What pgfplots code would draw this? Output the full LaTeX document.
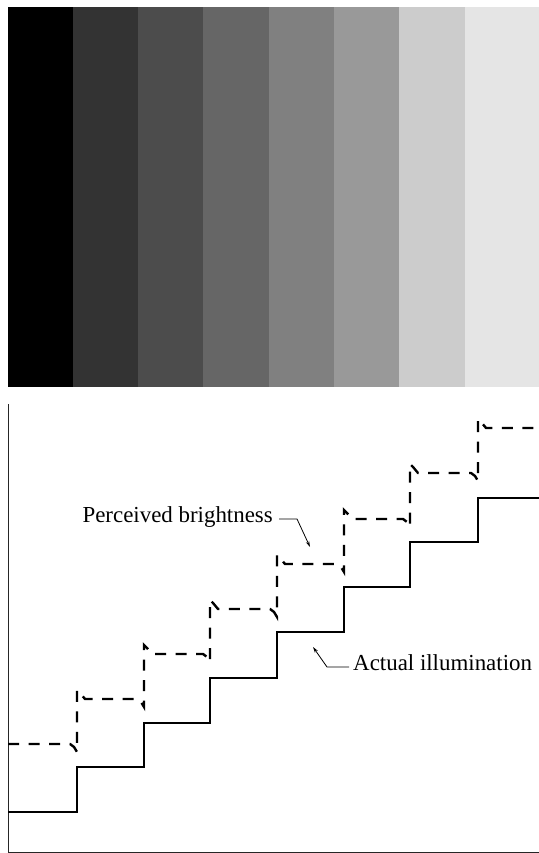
\documentclass[border=0pt]{standalone}
\usepackage{pgfplots}
\pgfplotsset{compat=1.18}
\usetikzlibrary{arrows.meta}
\usepackage{fontspec}
\setmainfont{Liberation Serif}

\begin{document}
\begin{tikzpicture}[x=1bp,y=1bp]
\useasboundingbox (0,0) rectangle (539,853);

% gray bands on top
\begin{axis}[
    at={(8bp,466bp)}, anchor=south west,
    scale only axis, width=531bp, height=380bp,
    xmin=8, xmax=539, ymin=466, ymax=846,
    hide axis,
]
\addplot[draw=none, fill=black]       coordinates {(8,466)(73.5,466)(73.5,846)(8,846)} --cycle;
\addplot[draw=none, fill=black!80]    coordinates {(73,466)(138.5,466)(138.5,846)(73,846)} --cycle;
\addplot[draw=none, fill=black!70]    coordinates {(138,466)(203.5,466)(203.5,846)(138,846)} --cycle;
\addplot[draw=none, fill=black!60]    coordinates {(203,466)(269.5,466)(269.5,846)(203,846)} --cycle;
\addplot[draw=none, fill=black!50]    coordinates {(269,466)(334.5,466)(334.5,846)(269,846)} --cycle;
\addplot[draw=none, fill=black!40]    coordinates {(334,466)(399.5,466)(399.5,846)(334,846)} --cycle;
\addplot[draw=none, fill=black!20]    coordinates {(399,466)(465.5,466)(465.5,846)(399,846)} --cycle;
\addplot[draw=none, fill=black!10]    coordinates {(465,466)(539,466)(539,846)(465,846)} --cycle;
\end{axis}

% staircase plot
\begin{axis}[
    at={(8bp,1bp)}, anchor=south west,
    scale only axis, width=531bp, height=448bp,
    xmin=8, xmax=539, ymin=1, ymax=449,
    axis lines=left,
    axis line style={-, line width=0.9bp, black!85},
    xtick=\empty, ytick=\empty,
    clip=false,
]
% perceived brightness
\addplot[black, line width=2.4bp, dash pattern=on 11bp off 9.5bp] coordinates {
(8,109) (70,109) (74,106) (77,101) (77,163) (80,160) (85,154)
(137,154) (141,151) (144,146) (144,208) (147,205) (152,199)
(203,199) (207,196) (210,191) (210,253) (213,250) (218,244)
(270,244) (274,241) (277,236) (277,298) (280,295) (285,289)
(337,289) (341,286) (344,281) (344,343) (347,340) (352,334)
(403,334) (407,331) (410,326) (410,389) (413,386) (418,380)
(471,380) (475,377) (478,372) (478,434) (481,431) (486,425)
(539,425)
};
% actual illumination
\addplot[black, line width=2.8bp] coordinates {
(8,41)(77,41)(77,86)(144,86)(144,130)(210,130)(210,175)(277,175)
(277,221)(344,221)(344,266)(410,266)(410,311)(478,311)(478,355)(539,355)
};

\node[anchor=base east, inner sep=0pt, font=\fontsize{23}{27}\selectfont, black]
  at (axis cs:273,330) {Perceived brightness};
\draw[line width=0.8bp, -{Stealth[length=6bp,width=3.5bp]}]
  (axis cs:279,334) -- (axis cs:297,334) -- (axis cs:310,306);

\node[anchor=base west, inner sep=0pt, font=\fontsize{23}{27}\selectfont, black]
  at (axis cs:353,182) {Actual illumination};
\draw[line width=0.8bp, -{Stealth[length=6bp,width=3.5bp]}]
  (axis cs:349,186) -- (axis cs:327,186) -- (axis cs:313,206);
\end{axis}
\end{tikzpicture}
\end{document}
